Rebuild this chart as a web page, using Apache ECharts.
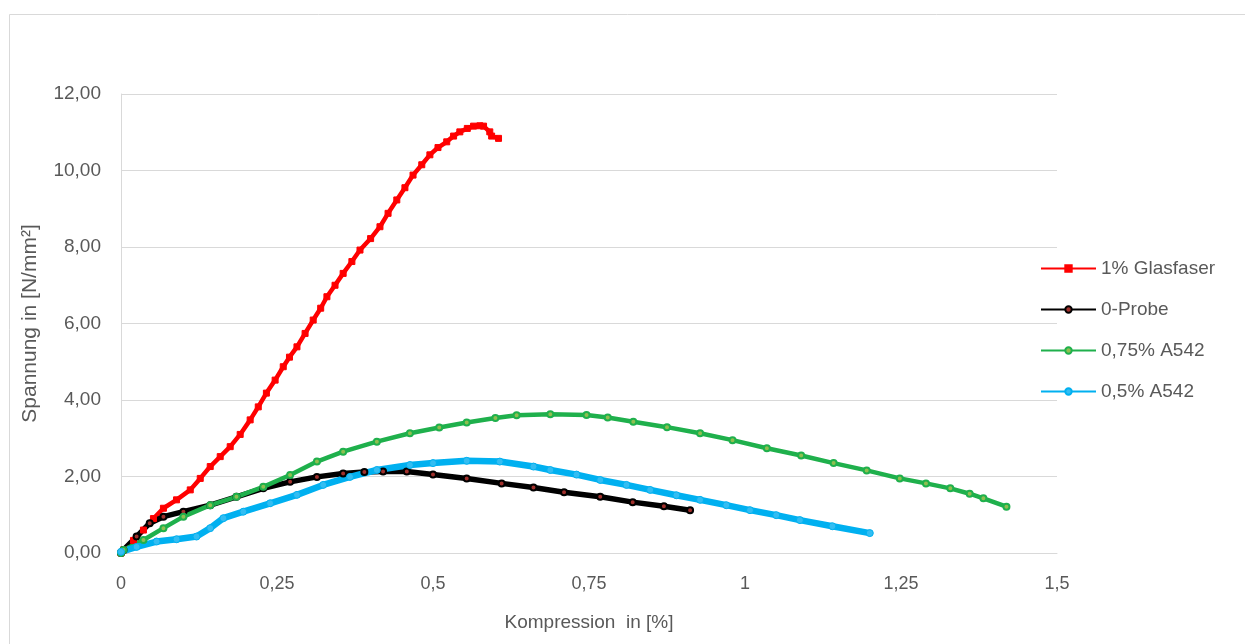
<!DOCTYPE html>
<html>
<head>
<meta charset="utf-8">
<script src="https://cdn.jsdelivr.net/npm/echarts@6/dist/echarts.min.js"></script>
<style>html,body{margin:0;padding:0;background:#fff}#c{width:1245px;height:644px}</style>
</head>
<body>
<div id="c"></div>
<script>
var seriesNames = ['1% Glasfaser', '0-Probe', '0,75% A542', '0,5% A542'];
var xTicks = [0, 0.25, 0.5, 0.75, 1, 1.25, 1.5];
var yTicks = [0, 2, 4, 6, 8, 10, 12];

var glasfaser = [[0,0],[0.004,0.08],[0.02,0.33],[0.036,0.60],[0.052,0.9],[0.068,1.17],[0.089,1.39],[0.111,1.65],[0.127,1.95],[0.143,2.26],[0.159,2.52],[0.175,2.78],[0.191,3.1],[0.207,3.48],[0.22,3.82],[0.233,4.18],[0.247,4.52],[0.26,4.87],[0.27,5.12],[0.282,5.39],[0.295,5.74],[0.308,6.09],[0.32,6.4],[0.33,6.70],[0.343,7.0],[0.356,7.31],[0.37,7.62],[0.383,7.92],[0.4,8.22],[0.415,8.53],[0.428,8.88],[0.442,9.23],[0.455,9.55],[0.468,9.88],[0.482,10.15],[0.495,10.41],[0.508,10.6],[0.522,10.75],[0.533,10.9],[0.543,11.01],[0.555,11.1],[0.565,11.16],[0.575,11.17],[0.581,11.16],[0.591,11.01],[0.594,10.9],[0.605,10.84]];
var probe0 = [[0,0],[0.004,0.08],[0.025,0.43],[0.046,0.78],[0.068,0.95],[0.1,1.08],[0.143,1.25],[0.185,1.47],[0.228,1.69],[0.271,1.86],[0.314,1.99],[0.356,2.08],[0.39,2.12],[0.42,2.13],[0.458,2.13],[0.5,2.05],[0.554,1.95],[0.61,1.82],[0.661,1.71],[0.71,1.59],[0.768,1.47],[0.82,1.33],[0.87,1.22],[0.912,1.12]];
var a542_075 = [[0,0],[0.004,0.08],[0.036,0.34],[0.068,0.65],[0.1,0.95],[0.143,1.25],[0.185,1.47],[0.228,1.73],[0.271,2.04],[0.314,2.39],[0.356,2.65],[0.41,2.91],[0.463,3.13],[0.51,3.28],[0.554,3.41],[0.6,3.53],[0.634,3.6],[0.688,3.63],[0.746,3.61],[0.78,3.54],[0.821,3.43],[0.875,3.29],[0.928,3.13],[0.98,2.95],[1.035,2.74],[1.09,2.55],[1.142,2.35],[1.195,2.16],[1.248,1.95],[1.29,1.82],[1.329,1.69],[1.36,1.55],[1.382,1.43],[1.419,1.21]];
var a542_05 = [[0,0.03],[0.025,0.16],[0.057,0.30],[0.089,0.36],[0.121,0.43],[0.143,0.65],[0.164,0.91],[0.196,1.08],[0.239,1.30],[0.282,1.52],[0.324,1.78],[0.367,1.99],[0.41,2.17],[0.463,2.30],[0.5,2.35],[0.554,2.41],[0.607,2.39],[0.661,2.26],[0.688,2.17],[0.73,2.05],[0.768,1.91],[0.81,1.78],[0.848,1.65],[0.89,1.51],[0.928,1.39],[0.97,1.25],[1.008,1.12],[1.05,0.99],[1.088,0.86],[1.14,0.70],[1.2,0.52]];

var chart = echarts.init(document.getElementById('c'));
var txt = '#595959';
var font = 'Liberation Sans, Arial, sans-serif';
chart.setOption({
  animation: false,
  backgroundColor: '#fff',
  graphic: [{
    type: 'rect', left: 7, top: 12, z: -1,
    shape: { width: 1236, height: 650 },
    style: { fill: 'none', stroke: '#d9d9d9', lineWidth: 1 }
  }],
  grid: { left: 121, right: 188, top: 94, bottom: 91, containLabel: false },
  legend: {
    orient: 'vertical', left: 1035, top: 254, itemGap: 22,
    itemWidth: 55, itemHeight: 8,
    textStyle: { color: txt, fontSize: 19, fontFamily: font, padding: [0, 0, 0, 0] },
    data: seriesNames
  },
  xAxis: {
    type: 'value', min: 0, max: 1.5, interval: 0.25,
    name: 'Kompression  in [%]', nameLocation: 'middle', nameGap: 60,
    nameTextStyle: { color: txt, fontSize: 19, fontFamily: font },
    axisLine: { show: true, lineStyle: { color: '#d9d9d9', width: 1 } },
    axisTick: { show: false },
    splitLine: { show: false },
    axisLabel: {
      color: txt, fontSize: 18, margin: 22, fontFamily: font,
      formatter: function (v) { return String(v).replace('.', ','); }
    }
  },
  yAxis: {
    type: 'value', min: 0, max: 12, interval: 2,
    name: 'Spannung in [N/mm²]', nameLocation: 'middle', nameGap: 80,
    nameTextStyle: { color: txt, fontSize: 21, fontFamily: font },
    axisLine: { show: true, lineStyle: { color: '#d9d9d9', width: 1 } },
    axisTick: { show: false },
    splitLine: { show: true, lineStyle: { color: '#d9d9d9', width: 1 } },
    axisLabel: {
      color: txt, fontSize: 19, margin: 20, fontFamily: font,
      formatter: function (v) { return v.toFixed(2).replace('.', ','); }
    }
  },
  series: [
    {
      name: seriesNames[0], type: 'line', data: glasfaser,
      symbol: 'rect', symbolSize: 6, showSymbol: true,
      lineStyle: { color: '#ff0000', width: 4.5 },
      itemStyle: { color: '#ff0000', borderColor: '#ff0000', borderWidth: 1 }
    },
    {
      name: seriesNames[1], type: 'line', data: probe0,
      symbol: 'circle', symbolSize: 6, showSymbol: true,
      lineStyle: { color: '#000000', width: 5.5 },
      itemStyle: { color: '#a0302c', borderColor: '#000000', borderWidth: 2 }
    },
    {
      name: seriesNames[2], type: 'line', data: a542_075,
      symbol: 'circle', symbolSize: 6, showSymbol: true,
      lineStyle: { color: '#1fb04c', width: 4.5 },
      itemStyle: { color: '#8fbf50', borderColor: '#1fb04c', borderWidth: 2 }
    },
    {
      name: seriesNames[3], type: 'line', data: a542_05,
      symbol: 'circle', symbolSize: 7, showSymbol: true,
      lineStyle: { color: '#00b0f0', width: 6.5 },
      itemStyle: { color: '#33bdf2', borderColor: '#00b0f0', borderWidth: 1 }
    }
  ]
});
</script>
</body>
</html>
